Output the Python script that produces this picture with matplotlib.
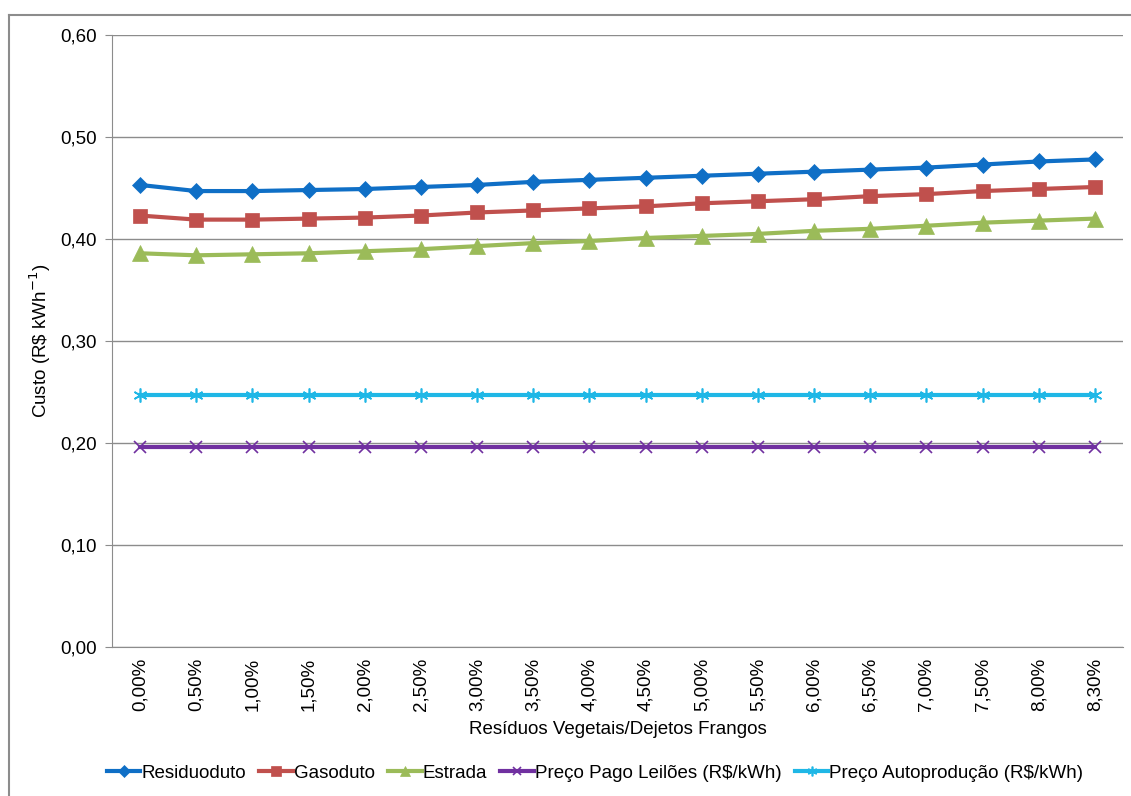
import matplotlib.pyplot as plt
import matplotlib.lines as mlines
import numpy as np

x_labels = ["0,00%", "0,50%", "1,00%", "1,50%", "2,00%", "2,50%", "3,00%", "3,50%", "4,00%",
            "4,50%", "5,00%", "5,50%", "6,00%", "6,50%", "7,00%", "7,50%", "8,00%", "8,30%"]

residuoduto = [0.453, 0.447, 0.447, 0.448, 0.449, 0.451, 0.453, 0.456, 0.458,
               0.460, 0.462, 0.464, 0.466, 0.468, 0.470, 0.473, 0.476, 0.478]
gasoduto = [0.423, 0.419, 0.419, 0.420, 0.421, 0.423, 0.426, 0.428, 0.430,
            0.432, 0.435, 0.437, 0.439, 0.442, 0.444, 0.447, 0.449, 0.451]
estrada = [0.386, 0.384, 0.385, 0.386, 0.388, 0.390, 0.393, 0.396, 0.398,
           0.401, 0.403, 0.405, 0.408, 0.410, 0.413, 0.416, 0.418, 0.420]
leiloes = [0.196] * 18
autoproducao = [0.247] * 18

plt.rcParams['font.family'] = ['Liberation Sans', 'DejaVu Sans']
FS = 13.5

W, H = 1131, 796
fig = plt.figure(figsize=(W / 100, H / 100), dpi=100)
# outer chart border (only left and top edges visible in the reference)
fig.add_artist(mlines.Line2D([9 / W, 9 / W], [0, 1 - 15 / H], transform=fig.transFigure,
                             color="#8c8c8c", linewidth=1.5))
fig.add_artist(mlines.Line2D([9 / W, 1], [1 - 15 / H, 1 - 15 / H], transform=fig.transFigure,
                             color="#8c8c8c", linewidth=1.5))

ax = fig.add_axes([112 / W, 1 - 647 / H, 1011 / W, 612 / H])

x = np.arange(len(x_labels))
series = [
    (residuoduto, "Residuoduto", "#0f6fc6", "D", 8.5, 0.5),
    (gasoduto, "Gasoduto", "#c0504d", "s", 10.5, 0.5),
    (estrada, "Estrada", "#9bbb59", "^", 11, 0.5),
    (leiloes, "Preço Pago Leilões (R$/kWh)", "#7030a0", "x", 9, 1.2),
    (autoproducao, "Preço Autoprodução (R$/kWh)", "#1fb7e6", (6, 2, 0), 10, 1.2),
]
for vals, label, color, marker, ms, mew in series:
    ax.plot(x, vals, color=color, linewidth=3, marker=marker, markersize=ms,
            markeredgewidth=mew, markeredgecolor=color, label=label, zorder=3)

yt = np.arange(0, 0.61, 0.1)
ax.set_ylim(0, 0.6)
ax.set_yticks(yt)
ax.set_yticklabels([f"{v:.2f}".replace(".", ",") for v in yt], fontsize=FS)
ax.set_xlim(-0.5, 17.5)
ax.set_xticks(x)
ax.set_xticklabels(x_labels, rotation=90, fontsize=FS)
ax.grid(True, axis="y", color="#8c8c8c", linewidth=1.0)
ax.set_axisbelow(True)
for s in ["top", "right"]:
    ax.spines[s].set_visible(False)
ax.spines["left"].set_color("#8c8c8c")
ax.spines["bottom"].set_color("#8c8c8c")
ax.tick_params(axis="y", color="#8c8c8c", length=5, pad=6)
ax.tick_params(axis="x", length=0, pad=8)

ax.set_xlabel("Resíduos Vegetais/Dejetos Frangos", fontsize=FS, va="center")
ax.xaxis.set_label_coords(0.5, -(730 - 647) / 612)
ax.set_ylabel("Custo (R\\$ kWh$^{-1}$)", fontsize=FS, va="center")
ax.yaxis.set_label_coords(-(112 - 40) / 1011, 0.5)

ax.legend(loc="center", bbox_to_anchor=((595 - 112) / 1011, -(773 - 647) / 612), ncol=5,
          frameon=False, fontsize=FS, handlelength=1.8, handletextpad=0.05,
          columnspacing=0.7, borderaxespad=0, markerscale=0.7)

fig.savefig("out.png", dpi=100)
